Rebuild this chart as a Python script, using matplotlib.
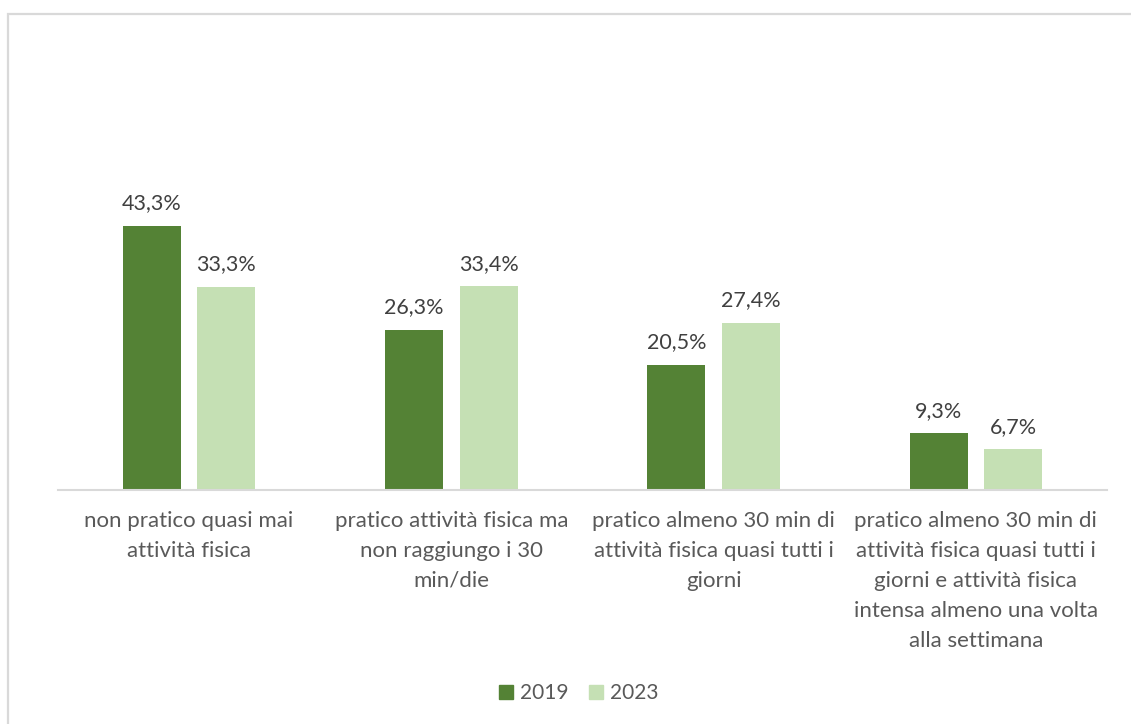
import matplotlib.pyplot as plt
from matplotlib.patches import Rectangle, Patch
import numpy as np

plt.rcParams['font.family'] = ['Lato', 'DejaVu Sans']

categories = [
    "non pratico quasi mai\nattività fisica",
    "pratico attività fisica ma\nnon raggiungo i 30\nmin/die",
    "pratico almeno 30 min di\nattività fisica quasi tutti i\ngiorni",
    "pratico almeno 30 min di\nattività fisica quasi tutti i\ngiorni e attività fisica\nintensa almeno una volta\nalla settimana",
]
years = ["2019", "2023"]
values_2019 = [43.3, 26.3, 20.5, 9.3]
values_2023 = [33.3, 33.4, 27.4, 6.7]

dark_green = "#548235"
light_green = "#C5E0B4"
label_color = "#404040"
text_color = "#595959"

fig = plt.figure(figsize=(11.31, 7.24), dpi=100)

# light grey chart border, running off the right and bottom edges
fig.patches.append(Rectangle((8 / 1131, -0.1), 1.2, 1 - 14 / 724 + 0.1,
                             transform=fig.transFigure, fill=False,
                             edgecolor="#D9D9D9", linewidth=1.6))

ax = fig.add_axes([58 / 1131, 1 - 490 / 724, 1049 / 1131, 305 / 724])

x = np.arange(len(categories))
width = 0.222
offset = 0.142

bars1 = ax.bar(x - offset, values_2019, width, color=dark_green)
bars2 = ax.bar(x + offset, values_2023, width, color=light_green)

for bars in (bars1, bars2):
    for b in bars:
        v = b.get_height()
        ax.annotate(f"{v:.1f}%".replace(".", ","),
                    (b.get_x() + b.get_width() / 2, v),
                    xytext=(0, 9), textcoords="offset points",
                    ha="center", va="bottom", fontsize=15.5, color=label_color)

ax.set_xlim(-0.5, 3.5)
ax.set_ylim(0, 50)
ax.set_yticks([])
ax.set_xticks(x)
ax.set_xticklabels(categories, fontsize=16, color=text_color, linespacing=1.62)
ax.tick_params(axis="x", length=0, pad=15)

for side in ("top", "left", "right"):
    ax.spines[side].set_visible(False)
ax.spines["bottom"].set_color("#D9D9D9")
ax.spines["bottom"].set_linewidth(1.5)

handles = [Patch(color=dark_green), Patch(color=light_green)]
fig.legend(handles, years, loc="center", bbox_to_anchor=(579 / 1131, 31 / 724),
           ncol=2, frameon=False, fontsize=15, labelcolor=text_color,
           handlelength=0.65, handleheight=0.65, handletextpad=0.35,
           columnspacing=1.0)

fig.savefig("out.png", dpi=100)
